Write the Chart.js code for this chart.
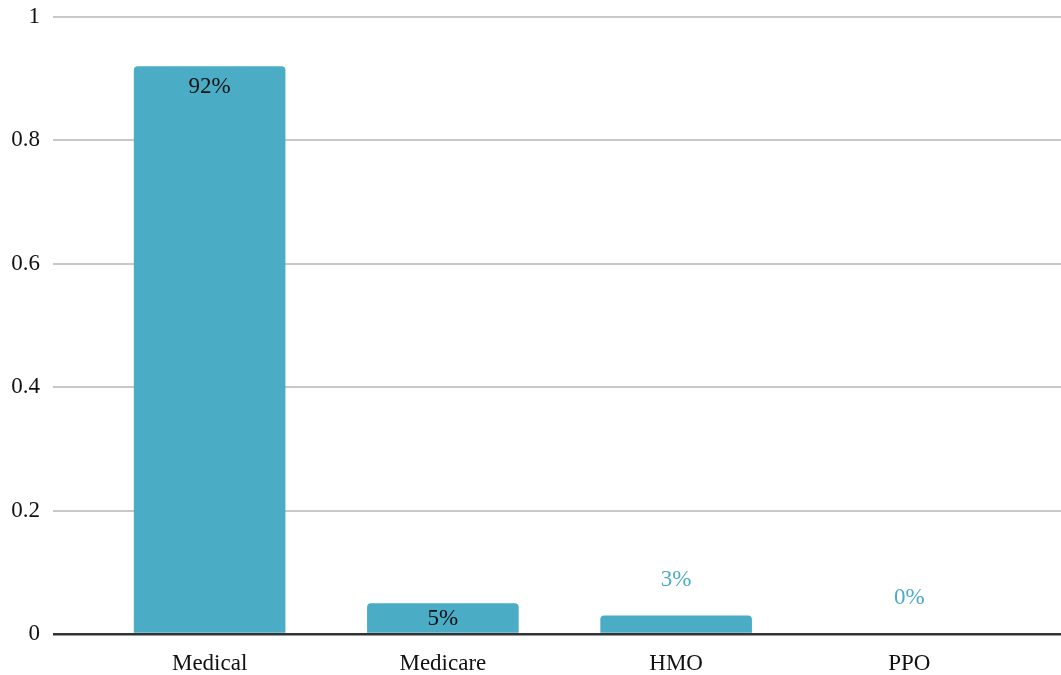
<!DOCTYPE html>
<html>
<head>
<meta charset="utf-8">
<script src="https://cdn.jsdelivr.net/npm/chart.js@4.4.0/dist/chart.umd.min.js"></script>
<style>
  body { margin: 0; background: #fff; }
  #wrap { width: 1061px; height: 675px; }
</style>
</head>
<body>
<div id="wrap"><canvas id="myChart"></canvas></div>
<script>
var categories = ["Medical", "Medicare", "HMO", "PPO"];
var shares = [0.92, 0.05, 0.03, 0];
var shareLabels = ["92%", "5%", "3%", "0%"];
var yTicks = [0, 0.2, 0.4, 0.6, 0.8, 1];
var yTickLabels = ["0", "0.2", "0.4", "0.6", "0.8", "1"];

var barColor = "#4BACC6";
var fontFamily = "'Liberation Serif', 'Times New Roman', serif";

// draws the % labels: inside the bar if it is tall enough, otherwise above it
var valueLabels = {
  id: "valueLabels",
  afterDatasetsDraw: function (chart) {
    var ctx = chart.ctx;
    var meta = chart.getDatasetMeta(0);
    ctx.save();
    ctx.font = "23px " + fontFamily;
    ctx.textAlign = "center";
    ctx.textBaseline = "middle";
    meta.data.forEach(function (bar, i) {
      var h = bar.base - bar.y;
      if (shares[i] >= 0.04) {
        ctx.fillStyle = "#111";
        ctx.fillText(shareLabels[i], bar.x, bar.y + Math.min(21, h / 2 + 1));
      } else {
        ctx.fillStyle = barColor;
        ctx.fillText(shareLabels[i], bar.x, bar.y - 36);
      }
    });
    ctx.restore();
  }
};

function gridColor(c) {
  return c.tick && c.tick.value === 0 ? "#333" : "#c8c8c8";
}
function gridWidth(c) {
  return c.tick && c.tick.value === 0 ? 2.5 : 2;
}
function fixTicks(s) {
  s.ticks = yTicks.map(function (v) { return { value: v }; });
}

var ctx = document.getElementById("myChart").getContext("2d");
var myChart = new Chart(ctx, {
  type: "bar",
  data: {
    labels: categories,
    datasets: [{
      data: shares,
      backgroundColor: barColor,
      borderRadius: { topLeft: 4, topRight: 4 },
      borderSkipped: "start",
      barPercentage: 0.65,
      categoryPercentage: 1
    }]
  },
  options: {
    responsive: true,
    maintainAspectRatio: false,
    animation: false,
    layout: { padding: { top: 17, left: 0, right: 0, bottom: 0 } },
    plugins: {
      legend: { display: false },
      tooltip: { enabled: false }
    },
    scales: {
      x: {
        grid: { display: false },
        border: { display: false },
        ticks: { color: "#111", font: { family: fontFamily, size: 23 }, padding: 8 },
        afterFit: function (s) { s.height = 41; s.paddingLeft = 0; s.paddingRight = 0; }
      },
      y: {
        min: 0,
        max: 1,
        afterBuildTicks: fixTicks,
        ticks: {
          color: "#111",
          font: { family: fontFamily, size: 23 },
          padding: 13,
          callback: function (v, i) { return yTickLabels[i]; }
        },
        grid: { color: gridColor, tickColor: gridColor, lineWidth: gridWidth, tickLength: 40 },
        border: { display: false },
        afterFit: function (s) { s.width = 93; s.paddingTop = 0; s.paddingBottom = 0; }
      },
      y2: {
        position: "right",
        min: 0,
        max: 1,
        afterBuildTicks: fixTicks,
        ticks: { display: false },
        grid: { drawOnChartArea: false, color: gridColor, tickColor: gridColor, lineWidth: gridWidth, tickLength: 35 },
        border: { display: false },
        afterFit: function (s) { s.width = 35; s.paddingTop = 0; s.paddingBottom = 0; }
      }
    }
  },
  plugins: [valueLabels]
});
</script>
</body>
</html>
